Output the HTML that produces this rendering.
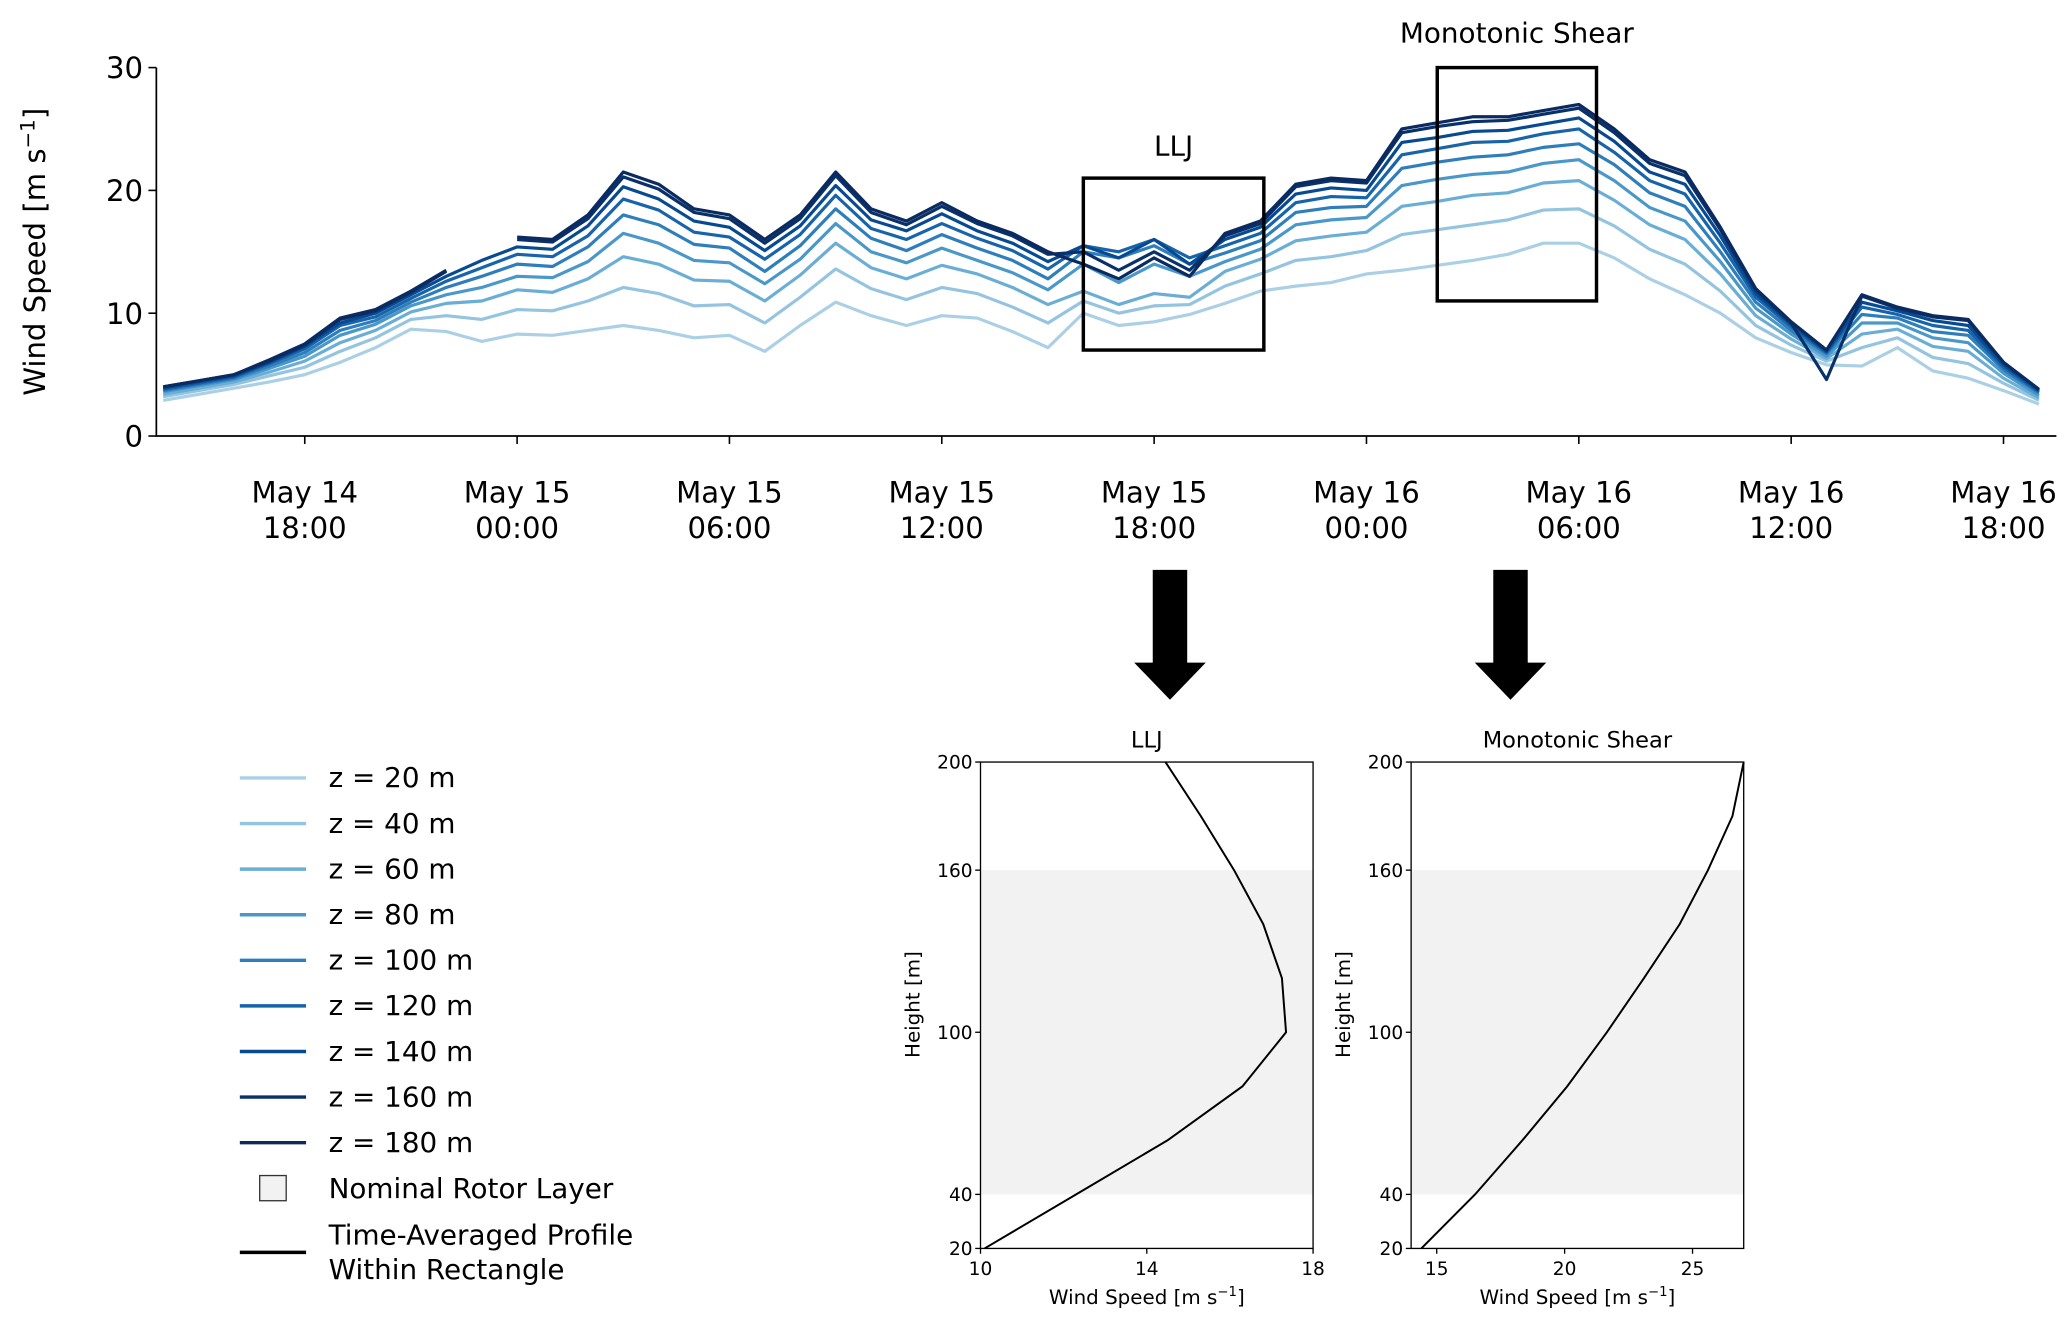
<!DOCTYPE html>
<html><head><meta charset="utf-8"><style>
html,body{margin:0;padding:0;background:#fff;}
svg{display:block;font-family:"DejaVu Sans","Liberation Sans",sans-serif;}
</style></head><body>
<svg id="fig" width="2067" height="1320" viewBox="0 0 1560 996" preserveAspectRatio="none" xmlns="http://www.w3.org/2000/svg">
<g id="main"></g>
<g id="legend"></g>
<g id="p1"></g>
<g id="p2"></g>
<g id="arrows">
<polygon points="870,430 896,430 896,500 910,500 883,528 856,500 870,500" fill="#000"/>
<polygon points="1127,430 1153,430 1153,500 1167,500 1140,528 1113,500 1127,500" fill="#000"/>
</g>
</svg>
<script>
const NS="http://www.w3.org/2000/svg";
// ---- main time-series data (hours since May 14 18:00) ----
const hours=[-4,-3,-2,-1,0,1,2,3,4,5,6,7,8,9,10,11,12,13,14,15,16,17,18,19,20,21,22,23,24,25,26,27,28,29,30,31,32,33,34,35,36,37,38,39,40,41,42,43,44,45,46,47,48,49];
const heights=["20","40","60","80","100","120","140","160","180"];
const z20=[2.9,3.4,3.9,4.4,5.0,6.0,7.2,8.7,8.5,7.7,8.3,8.2,8.6,9.0,8.6,8.0,8.2,6.9,9.0,10.9,9.8,9.0,9.8,9.6,8.5,7.2,10.0,9.0,9.3,9.9,10.8,11.8,12.2,12.5,13.2,13.5,13.9,14.3,14.8,15.7,15.7,14.5,12.8,11.5,10.0,8.0,6.8,5.8,5.7,7.2,5.3,4.7,3.7,2.6];
const z40=[3.2,3.7,4.2,4.9,5.6,6.9,8.0,9.5,9.8,9.5,10.3,10.2,11.0,12.1,11.6,10.6,10.7,9.2,11.3,13.6,12.0,11.1,12.1,11.6,10.5,9.2,11.0,10.0,10.6,10.7,12.2,13.2,14.3,14.6,15.1,16.4,16.8,17.2,17.6,18.4,18.5,17.1,15.2,14.0,11.8,9.0,7.4,6.1,7.2,8.0,6.4,5.9,4.3,2.9];
const z60=[3.4,3.9,4.4,5.2,6.1,7.6,8.6,10.1,10.8,11.0,11.9,11.7,12.8,14.6,14.0,12.7,12.6,11.0,13.1,15.7,13.7,12.8,13.9,13.2,12.1,10.7,11.8,10.7,11.6,11.3,13.4,14.4,15.9,16.3,16.6,18.7,19.1,19.6,19.8,20.6,20.8,19.2,17.2,16.0,13.2,9.8,7.9,6.3,8.3,8.7,7.3,6.9,4.7,3.1];
const z80=[3.6,4.1,4.6,5.5,6.5,8.2,9.1,10.6,11.5,12.1,13.0,12.9,14.2,16.5,15.7,14.3,14.1,12.4,14.4,17.3,15.0,14.1,15.3,14.3,13.3,11.9,14.0,12.5,14.0,13.0,14.2,15.2,17.2,17.6,17.8,20.4,20.9,21.3,21.5,22.2,22.5,20.8,18.6,17.5,14.2,10.4,8.3,6.5,9.2,9.2,8.0,7.6,5.1,3.3];
const z100=[3.7,4.2,4.7,5.7,6.8,8.6,9.4,10.9,12.1,13.0,14.0,13.8,15.4,18.0,17.2,15.6,15.3,13.4,15.5,18.5,16.1,15.1,16.4,15.3,14.3,12.8,15.0,14.5,15.5,14.0,14.9,15.9,18.2,18.6,18.7,21.8,22.3,22.7,22.9,23.5,23.8,22.1,19.8,18.7,15.0,10.9,8.6,6.7,9.9,9.6,8.5,8.2,5.4,3.5];
const z120=[3.8,4.3,4.8,5.9,7.1,9.0,9.7,11.2,12.6,13.7,14.8,14.6,16.3,19.3,18.4,16.6,16.2,14.4,16.4,19.6,16.9,16.0,17.3,16.1,15.1,13.6,15.5,15.0,16.0,14.5,15.5,16.5,19.0,19.5,19.4,22.9,23.4,23.9,24.0,24.6,25.0,23.1,20.8,19.7,15.7,11.3,8.9,6.8,10.5,9.9,9.0,8.6,5.6,3.6];
const z140=[3.9,4.4,4.9,6.0,7.3,9.2,10.0,11.5,13.0,14.3,15.4,15.2,17.1,20.3,19.3,17.5,17.0,15.1,17.1,20.4,17.6,16.7,18.1,16.7,15.7,14.2,15.5,14.5,16.0,14.0,16.0,17.0,19.7,20.2,20.0,23.9,24.3,24.8,24.9,25.4,25.9,24.0,21.5,20.5,16.3,11.6,9.1,6.9,10.9,10.2,9.4,9.0,5.8,3.7];
const z160=[4.0,4.5,5.0,6.1,7.4,9.5,10.2,11.7,13.4,null,16.0,15.8,17.7,21.1,20.1,18.2,17.7,15.7,17.7,21.2,18.2,17.2,18.7,17.3,16.3,14.8,15.0,13.5,15.0,13.5,16.3,17.3,20.3,20.8,20.6,24.7,25.2,25.6,25.7,26.2,26.7,24.7,22.2,21.2,16.8,11.9,9.2,4.6,11.4,10.4,9.7,9.4,6.0,3.8];
const z180=[4.0,4.5,5.0,6.2,7.5,9.6,10.3,11.8,13.5,null,16.2,16.0,18.0,21.5,20.5,18.5,18.0,16.0,18.0,21.5,18.5,17.5,19.0,17.5,16.5,15.0,14.0,12.8,14.5,13.0,16.5,17.5,20.5,21.0,20.8,25.0,25.5,26.0,26.0,26.5,27.0,25.0,22.5,21.5,17.0,12.0,9.3,7.0,11.5,10.5,9.8,9.5,6.0,3.8];
const seriesList=[z20,z40,z60,z80,z100,z120,z140,z160,z180];
const yTicks=[0,10,20,30];
const xTickHours=[0,6,12,18,24,30,36,42,48];
const xTickDays=["May 14","May 15","May 15","May 15","May 15","May 16","May 16","May 16","May 16"];
const xTickTimes=["18:00","00:00","06:00","12:00","18:00","00:00","06:00","12:00","18:00"];
const lljBox=[22.0,27.1,7,21];
const monoBox=[32.0,36.5,11,30];
// ---- profile data ----
const profHeights=[20,40,60,80,100,120,140,160,180,200];
const lljSpeeds=[10.1,12.3,14.5,16.3,17.35,17.25,16.8,16.1,15.3,14.45];
const monoSpeeds=[14.4,16.5,18.35,20.1,21.65,23.1,24.5,25.6,26.56,27.0];
const hTicks=[20,40,100,160,200];
const lljXTicks=[10,14,18];
const monoXTicks=[15,20,25];

const colors=["#abd0e6","#94c4df","#6aaed6","#4a98c9","#2e7ebc","#1764ab","#084a92","#08306b","#0b2b60"];

function el(tag,attrs,parent,text){const e=document.createElementNS(NS,tag);for(const k in attrs)e.setAttribute(k,attrs[k]);if(text!==undefined)e.textContent=text;parent.appendChild(e);return e;}

// main axes
const L=118,R=1552,T=51,B=329;
const xs=h=>230+h*26.71;
const ys=v=>B-v*(B-T)/30;
const main=document.getElementById('main');
seriesList.forEach((s,i)=>{
  let d="",pen=false;
  s.forEach((v,j)=>{if(v===null){pen=false;return;}d+=(pen?"L":"M")+xs(hours[j]).toFixed(1)+","+ys(v).toFixed(1);pen=true;});
  const p=el('path',{d:d,fill:'none',stroke:colors[i],'stroke-width':2.4,'stroke-linejoin':'round'},main);
  
  
});
function box(b,name){const r=el('rect',{x:xs(b[0]),y:ys(b[3]),width:xs(b[1])-xs(b[0]),height:ys(b[2])-ys(b[3]),fill:'none',stroke:'#000','stroke-width':2.6},main);
}
box(lljBox,'llj-rectangle');box(monoBox,'monotonic-shear-rectangle');
let t=el('text',{x:(xs(lljBox[0])+xs(lljBox[1]))/2,y:ys(lljBox[3])-17,'font-size':21,'text-anchor':'middle'},main,'LLJ');

t=el('text',{x:(xs(monoBox[0])+xs(monoBox[1]))/2,y:ys(monoBox[3])-19,'font-size':21,'text-anchor':'middle'},main,'Monotonic Shear');

let ax=el('path',{d:`M${L},${T}V${B}H${R}`,fill:'none',stroke:'#000','stroke-width':1.3},main);

yTicks.forEach(v=>{el('line',{x1:L-6,x2:L,y1:ys(v),y2:ys(v),stroke:'#000','stroke-width':1.2},main);
 const tx=el('text',{x:L-10,y:ys(v)+8,'font-size':22,'text-anchor':'end'},main,String(v));
 });
xTickHours.forEach((h,i)=>{el('line',{x1:xs(h),x2:xs(h),y1:B,y2:B+6,stroke:'#000','stroke-width':1.2},main);
 const tx=el('text',{x:xs(h),y:379,'font-size':22,'text-anchor':'middle'},main,xTickDays[i]);
 
 const tx2=el('text',{x:xs(h),y:406,'font-size':22,'text-anchor':'middle'},main,xTickTimes[i]);
 });
const yt=el('text',{x:0,y:0,'font-size':22,'text-anchor':'middle',transform:'translate(34,190) rotate(-90)'},main);

yt.innerHTML='Wind Speed [m s<tspan dy="-8" font-size="15">−1</tspan><tspan dy="8">]</tspan>';

// legend
const lg=document.getElementById('legend');
heights.forEach((h,i)=>{const y=587+i*34.4;
 const ln=el('line',{x1:181,x2:231,y1:y,y2:y,stroke:colors[i],'stroke-width':2.6},lg);
 
 const tx=el('text',{x:248,y:y+7,'font-size':21},lg,'z = '+h+' m');
 });
let r=el('rect',{x:196,y:887,width:20,height:19,fill:'#f2f2f2',stroke:'#333','stroke-width':1},lg);

t=el('text',{x:248,y:904,'font-size':21},lg,'Nominal Rotor Layer');
let l2=el('line',{x1:181,x2:231,y1:945,y2:945,stroke:'#000','stroke-width':2.6},lg);
t=el('text',{x:248,y:939,'font-size':21},lg,'Time-Averaged Profile');
t=el('text',{x:248,y:965,'font-size':21},lg,'Within Rectangle');

// profile charts
function profile(gid,left,xmin,xmax,speeds,xticks,title){
 const g=document.getElementById(gid);const right=left+251,top=575,bot=942;
 const px=v=>left+(v-xmin)/(xmax-xmin)*(right-left);
 const py=h=>bot-(h-20)/180*(bot-top);
 const sh=el('rect',{x:left,y:py(160),width:right-left,height:py(40)-py(160),fill:'#f2f2f2'},g);
 
 const d=profHeights.map((h,i)=>(i?"L":"M")+px(speeds[i]).toFixed(1)+","+py(h).toFixed(1)).join("");
 const pl=el('path',{d:d,fill:'none',stroke:'#000','stroke-width':1.5},g);
 
 const fr=el('rect',{x:left,y:top,width:right-left,height:bot-top,fill:'none',stroke:'#000','stroke-width':1},g);
 
 hTicks.forEach(h=>{el('line',{x1:left-4,x2:left,y1:py(h),y2:py(h),stroke:'#000'},g);
  const tx=el('text',{x:left-6,y:py(h)+5,'font-size':14,'text-anchor':'end'},g,String(h));
  });
 xticks.forEach(v=>{el('line',{x1:px(v),x2:px(v),y1:bot,y2:bot+4,stroke:'#000'},g);
  const tx=el('text',{x:px(v),y:bot+20,'font-size':14,'text-anchor':'middle'},g,String(v));
  });
 const tt=el('text',{x:(left+right)/2,y:564,'font-size':17,'text-anchor':'middle'},g,title);
 
 const xl=el('text',{x:(left+right)/2,y:984,'font-size':15,'text-anchor':'middle'},g);
 
 xl.innerHTML='Wind Speed [m s<tspan dy="-6" font-size="10">−1</tspan><tspan dy="6">]</tspan>';
 const yl=el('text',{x:0,y:0,'font-size':15,'text-anchor':'middle',transform:`translate(${left-46},758) rotate(-90)`},g,'Height [m]');
 
}
profile('p1',740,10,18,lljSpeeds,lljXTicks,'LLJ');
profile('p2',1065,14,27,monoSpeeds,monoXTicks,'Monotonic Shear');
</script>
</body></html>
